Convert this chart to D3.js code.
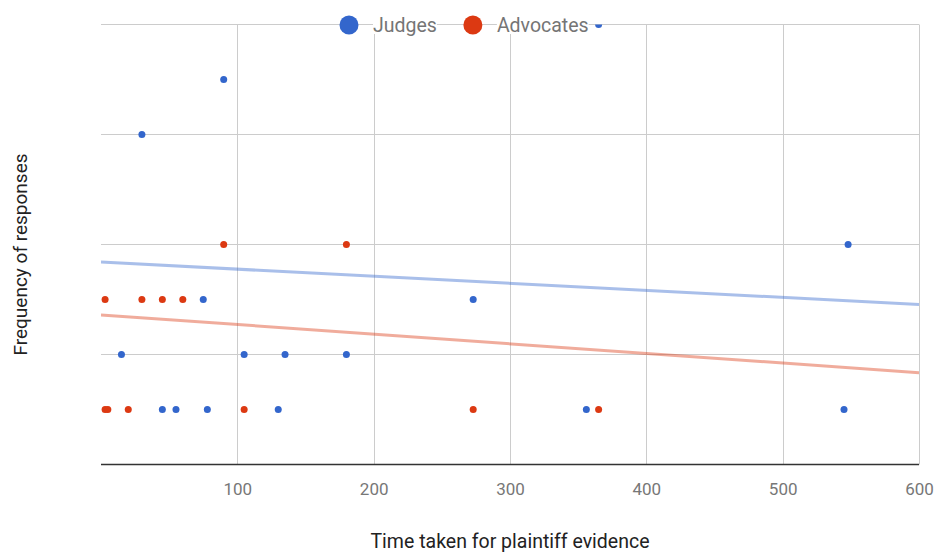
<!DOCTYPE html>
<html>
<head>
<meta charset="utf-8">
<script src="https://cdn.jsdelivr.net/npm/d3@7"></script>
<style>
  body { margin: 0; background: #fff; }
  text { font-family: Roboto, "Noto Sans", sans-serif; }
</style>
</head>
<body>
<div id="container"></div>
<script>
let w = 937;
let h = 552;

// DATA
let judgesX = [30, 90, 365, 75, 273, 548, 15, 105, 135, 180, 45, 55, 78, 130, 356, 545];
let judgesY = [6, 7, 8, 3, 3, 4, 2, 2, 2, 2, 1, 1, 1, 1, 1, 1];
let advocatesX = [3, 30, 45, 60, 90, 180, 3, 5, 20, 105, 273, 365];
let advocatesY = [3, 3, 3, 3, 4, 4, 1, 1, 1, 1, 1, 1];
// linear trendline ends [x, y]
let judgesTrend = [[0, 3.68], [600, 2.91]];
let advocatesTrend = [[0, 2.72], [600, 1.67]];
let xTicks = [100, 200, 300, 400, 500, 600];
let yGrid = [0, 2, 4, 6, 8];
let seriesNames = ["Judges", "Advocates"];
let seriesColors = ["#3366cc", "#dc3912"];

let plotLeft = 101, plotRight = 919, plotTop = 24.5, plotBottom = 464.5;

let viz = d3.select("#container").append("svg")
    .attr("width", w)
    .attr("height", h)
    .style("background-color", "white");

let xScale = d3.scaleLinear().domain([0, 600]).range([plotLeft, plotRight]);
let yScale = d3.scaleLinear().domain([0, 8]).range([plotBottom, plotTop]);

viz.append("defs").append("clipPath").attr("id", "plotclip")
  .append("rect")
    .attr("x", plotLeft).attr("y", plotTop)
    .attr("width", plotRight - plotLeft).attr("height", plotBottom - plotTop);

// gridlines
viz.selectAll(".hgrid").data(yGrid.filter(d => d > 0)).enter()
  .append("line")
    .attr("x1", plotLeft).attr("x2", plotRight)
    .attr("y1", d => yScale(d)).attr("y2", d => yScale(d))
    .attr("stroke", "#cccccc").attr("stroke-width", 1);

viz.selectAll(".vgrid").data(xTicks).enter()
  .append("line")
    .attr("x1", d => Math.round(xScale(d)) + 0.5).attr("x2", d => Math.round(xScale(d)) + 0.5)
    .attr("y1", plotTop).attr("y2", plotBottom)
    .attr("stroke", "#cccccc").attr("stroke-width", 1);

// x axis tick labels
let xAxis = d3.axisBottom(xScale).tickValues(xTicks).tickSize(0).tickPadding(18);
let gx = viz.append("g").attr("transform", "translate(0," + plotBottom + ")").call(xAxis);
gx.select(".domain").remove();
gx.selectAll("text")
  .attr("fill", "#777777")
  .style("font-size", "17px")
  .style("font-family", "Roboto, sans-serif");

// baseline
viz.append("line")
  .attr("x1", plotLeft).attr("x2", plotRight)
  .attr("y1", yScale(0)).attr("y2", yScale(0))
  .attr("stroke", "#333333").attr("stroke-width", 1.5);

// trendlines
let lineMaker = d3.line()
  .x(d => xScale(d[0]))
  .y(d => yScale(d[1]));

let plot = viz.append("g").attr("clip-path", "url(#plotclip)");

[judgesTrend, advocatesTrend].forEach(function(t, i){
  plot.append("path")
    .attr("d", lineMaker(t))
    .attr("fill", "none")
    .attr("stroke", seriesColors[i])
    .attr("stroke-opacity", 0.42)
    .attr("stroke-width", 3);
});

// points
plot.selectAll(".judge").data(judgesX).enter()
  .append("circle")
    .attr("cx", d => xScale(d))
    .attr("cy", (d, i) => yScale(judgesY[i]))
    .attr("r", 3.5)
    .attr("fill", seriesColors[0]);

plot.selectAll(".advocate").data(advocatesX).enter()
  .append("circle")
    .attr("cx", d => xScale(d))
    .attr("cy", (d, i) => yScale(advocatesY[i]))
    .attr("r", 3.5)
    .attr("fill", seriesColors[1]);

// legend
let lx = 339.5;
let ly = 25;
seriesNames.forEach(function(name, i){
  viz.append("circle")
    .attr("cx", lx + 9.5).attr("cy", ly)
    .attr("r", 9.5)
    .attr("fill", seriesColors[i]);
  let bg = viz.append("rect").attr("fill", "white");
  let t = viz.append("text")
    .attr("x", lx + 33.5).attr("y", ly)
    .attr("dy", "0.35em")
    .attr("fill", "#757575")
    .style("font-size", "19.5px")
    .text(name);
  let tw = t.node().getComputedTextLength();
  bg.attr("x", lx + 33.5).attr("y", ly - 10).attr("width", tw).attr("height", 19);
  lx = lx + 33.5 + tw + 26.5;
});

// axis titles
viz.append("text")
  .attr("x", (plotLeft + plotRight) / 2)
  .attr("y", 541)
  .attr("dy", "0.35em")
  .attr("text-anchor", "middle")
  .attr("fill", "#222222")
  .style("font-size", "19.5px")
  .text("Time taken for plaintiff evidence");

viz.append("text")
  .attr("transform", "translate(20," + ((plotTop + plotBottom) / 2 + 10) + ") rotate(-90)")
  .attr("dy", "0.35em")
  .attr("text-anchor", "middle")
  .attr("fill", "#222222")
  .style("font-size", "19px")
  .text("Frequency of responses");
</script>
</body>
</html>
